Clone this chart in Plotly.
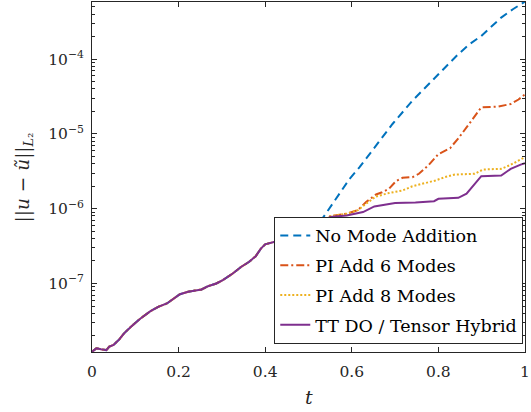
import plotly.graph_objects as go

# ---------------- data ----------------
# shared early segment (all four methods coincide)
t_shared = [0.0, 0.01, 0.021, 0.033, 0.04, 0.05, 0.063, 0.074, 0.09, 0.112,
            0.135, 0.154, 0.173, 0.188, 0.203, 0.222, 0.238, 0.253, 0.268, 0.287,
            0.302, 0.325, 0.344, 0.363, 0.378, 0.39, 0.40, 0.42, 0.45, 0.48, 0.50]
err_shared = [1.225e-8, 1.358e-8, 1.318e-8, 1.288e-8, 1.429e-8, 1.514e-8, 1.791e-8,
              2.153e-8, 2.642e-8, 3.412e-8, 4.266e-8, 4.898e-8, 5.408e-8, 6.31e-8,
              7.194e-8, 7.762e-8, 8.128e-8, 8.318e-8, 9.204e-8, 1.0e-7, 1.107e-7,
              1.358e-7, 1.66e-7, 1.95e-7, 2.312e-7, 2.931e-7, 3.342e-7, 3.589e-7,
              3.664e-7, 3.981e-7, 4.498e-7]

# No Mode Addition
t_none = [0.516, 0.53, 0.55, 0.572, 0.595, 0.618, 0.656, 0.694, 0.74, 0.777,
          0.80, 0.823, 0.846, 0.872, 0.899, 0.922, 0.945, 0.972, 1.0]
err_none = [5.408e-7, 7.079e-7, 1.047e-6, 1.66e-6, 2.512e-6, 3.589e-6, 6.982e-6,
            1.358e-5, 2.78e-5, 4.645e-5, 6.31e-5, 8.57e-5, 1.167e-4, 1.585e-4,
            2.042e-4, 2.692e-4, 3.589e-4, 4.645e-4, 5.888e-4]

# PI Add 6 Modes
t_pi6 = [0.516, 0.535, 0.55, 0.588, 0.614, 0.633, 0.656, 0.67, 0.686, 0.702,
         0.717, 0.74, 0.755, 0.777, 0.80, 0.827, 0.846, 0.868, 0.888, 0.899,
         0.937, 0.967, 0.985, 1.0]
err_pi6 = [4.786e-7, 5.984e-7, 7.943e-7, 8.57e-7, 9.55e-7, 1.23e-6, 1.549e-6,
           1.66e-6, 1.849e-6, 2.333e-6, 2.588e-6, 2.642e-6, 2.931e-6, 3.802e-6,
           5.37e-6, 6.457e-6, 8.71e-6, 1.288e-5, 1.849e-5, 2.265e-5, 2.312e-5,
           2.512e-5, 2.884e-5, 3.388e-5]

# PI Add 8 Modes
t_pi8 = [0.516, 0.535, 0.55, 0.588, 0.614, 0.633, 0.656, 0.686, 0.717, 0.74,
         0.762, 0.793, 0.815, 0.838, 0.884, 0.903, 0.945, 0.967, 1.0]
err_pi8 = [4.786e-7, 5.984e-7, 7.943e-7, 8.57e-7, 9.55e-7, 1.167e-6, 1.459e-6,
           1.622e-6, 1.754e-6, 1.995e-6, 2.153e-6, 2.382e-6, 2.642e-6, 2.864e-6,
           2.931e-6, 3.342e-6, 3.412e-6, 3.864e-6, 4.898e-6]

# TT DO / Tensor Hybrid
t_tt = [0.516, 0.535, 0.55, 0.588, 0.626, 0.652, 0.70, 0.747, 0.79, 0.80,
        0.846, 0.865, 0.884, 0.899, 0.945, 0.967, 0.99, 1.0]
err_tt = [4.786e-7, 5.984e-7, 7.762e-7, 8.128e-7, 9.016e-7, 1.072e-6, 1.189e-6,
          1.211e-6, 1.259e-6, 1.358e-6, 1.396e-6, 1.585e-6, 2.153e-6, 2.723e-6,
          2.78e-6, 3.412e-6, 3.89e-6, 4.074e-6]

names = ["No Mode Addition", "PI Add 6 Modes", "PI Add 8 Modes", "TT DO / Tensor Hybrid"]
x_ticks = [0, 0.2, 0.4, 0.6, 0.8, 1.0]
x_ticktext = ["0", "0.2", "0.4", "0.6", "0.8", "1"]
y_ticks = [1e-7, 1e-6, 1e-5, 1e-4]
y_ticktext = ["10<sup>−7</sup>", "10<sup>−6</sup>", "10<sup>−5</sup>", "10<sup>−4</sup>"]

# ---------------- figure ----------------
FONT = "DejaVu Serif"
INK = "#262626"
colors = ["#0072BD", "#D95319", "#EDB120", "#7E2F8E"]
dashes = ["8px,5px", "8px,3px,2px,3px", "2px,2px", "solid"]
tails = [(t_none, err_none), (t_pi6, err_pi6), (t_pi8, err_pi8), (t_tt, err_tt)]

fig = go.Figure()
for i, (name, col, dsh, (tt, ee)) in enumerate(zip(names, colors, dashes, tails)):
    fig.add_trace(go.Scatter(
        x=t_shared + tt, y=err_shared + ee, mode="lines", name=name,
        legendgroup=f"g{i}",
        line=dict(color=col, width=2, dash=dsh)))

minor_vals = [m * 10.0 ** e for e in range(-8, -3) for m in range(2, 10)]

fig.update_layout(
    width=531, height=412,
    margin=dict(l=92, r=1, t=1, b=60),
    paper_bgcolor="white", plot_bgcolor="white",
    font=dict(family=FONT, size=15, color=INK),
    showlegend=True,
    legend=dict(x=0.996, y=0.024, xanchor="right", yanchor="bottom",
                bgcolor="white", bordercolor=INK, borderwidth=1,
                font=dict(family=FONT, size=17.5, color="black"),
                tracegroupgap=4, itemwidth=30),
    xaxis=dict(range=[0, 1], tickmode="array", tickvals=x_ticks, ticktext=x_ticktext,
               ticks="inside", ticklen=5, tickcolor=INK, showline=True,
               linecolor=INK, linewidth=1, mirror="ticks", showgrid=False,
               zeroline=False, tickfont=dict(family=FONT, size=15.5, color=INK),
               ticklabelstandoff=5, ticklabeloverflow="allow"),
    yaxis=dict(type="log", range=[-7.916, -3.236], tickmode="array",
               tickvals=y_ticks, ticktext=y_ticktext,
               ticks="inside", ticklen=5, tickcolor=INK, showline=True,
               linecolor=INK, linewidth=1, mirror="ticks", showgrid=False,
               zeroline=False, tickfont=dict(family=FONT, size=15.5, color=INK),
               minor=dict(ticks="inside", ticklen=3, tickcolor=INK,
                          tickvals=minor_vals, showgrid=False),
               ticklabelstandoff=4),
    annotations=[
        dict(text="||<i>u</i> − <i>ũ</i>||<sub><i>L</i>₂</sub>", xref="paper", yref="paper",
             x=-0.156, y=0.5, xanchor="center", yanchor="middle", textangle=-90,
             showarrow=False, font=dict(family=FONT, size=18.5, color=INK)),
        dict(text="<i>t</i>", xref="paper", yref="paper",
             x=0.5, y=-0.128, xanchor="center", yanchor="middle",
             showarrow=False, font=dict(family=FONT, size=19, color=INK)),
    ],
)

fig.write_html("out.html")
